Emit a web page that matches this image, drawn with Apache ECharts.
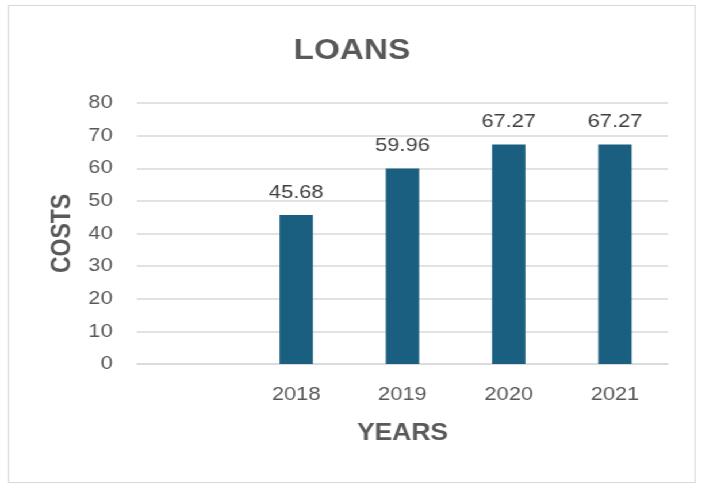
<!DOCTYPE html>
<html>
<head>
<meta charset="utf-8">
<script src="https://cdn.jsdelivr.net/npm/echarts@6/dist/echarts.min.js"></script>
<style>
  html, body { margin: 0; padding: 0; background: #fff; overflow: hidden; }
  /* chart is laid out at 612px wide and widened to fill the 704px page */
  #wrap { position: absolute; left: 0; top: 0; width: 612px; height: 486px; transform: scaleX(1.15); transform-origin: 0 0; }
  #frame { position: absolute; left: 7px; top: 5px; width: 598px; height: 478px; border: 1px solid #d9d9d9; box-sizing: border-box; }
  #chart { position: absolute; left: 0; top: 0; width: 612px; height: 486px; }
</style>
</head>
<body>
<div id="wrap">
  <div id="frame"></div>
  <div id="chart"></div>
</div>
<script>
// Loan costs per year (the first slot is intentionally left empty)
const years = ['', '2018', '2019', '2020', '2021'];
const costs = [null, 45.68, 59.96, 67.27, 67.27];
const yTicks = { min: 0, max: 80, interval: 10 };

const textColor = '#595959';
const font = 'Liberation Sans';

const chart = echarts.init(document.getElementById('chart'), null, { renderer: 'canvas' });
chart.setOption({
  animation: false,
  title: {
    text: 'LOANS',
    left: 'center',
    top: 31,
    textStyle: { fontFamily: font, fontSize: 29, fontWeight: 'bold', color: textColor }
  },
  grid: { left: 119, right: 31, top: 103, bottom: 122, containLabel: false },
  xAxis: {
    type: 'category',
    data: years,
    name: 'YEARS',
    nameLocation: 'middle',
    nameGap: 58,
    nameTextStyle: { fontFamily: font, fontSize: 23, fontWeight: 'bold', color: textColor },
    axisLine: { show: true, lineStyle: { color: '#d9d9d9', width: 1.5 } },
    axisTick: { show: false },
    axisLabel: { fontFamily: font, fontSize: 19, color: textColor, margin: 21 }
  },
  yAxis: {
    type: 'value',
    min: yTicks.min,
    max: yTicks.max,
    interval: yTicks.interval,
    name: 'COSTS',
    nameLocation: 'middle',
    nameGap: 53,
    nameTextStyle: { fontFamily: font, fontSize: 23, fontWeight: 'bold', color: textColor },
    axisLine: { show: false },
    axisTick: { show: false },
    splitLine: { lineStyle: { color: '#d9d9d9', width: 1.5 } },
    axisLabel: { fontFamily: font, fontSize: 19, color: textColor, margin: 21 }
  },
  series: [{
    type: 'bar',
    data: costs,
    barWidth: 29,
    itemStyle: { color: '#1a5f80' },
    label: {
      show: true,
      position: 'top',
      distance: 13,
      fontFamily: font,
      fontSize: 19,
      color: '#404040',
      formatter: p => p.value.toFixed(2)
    }
  }]
});
</script>
</body>
</html>
